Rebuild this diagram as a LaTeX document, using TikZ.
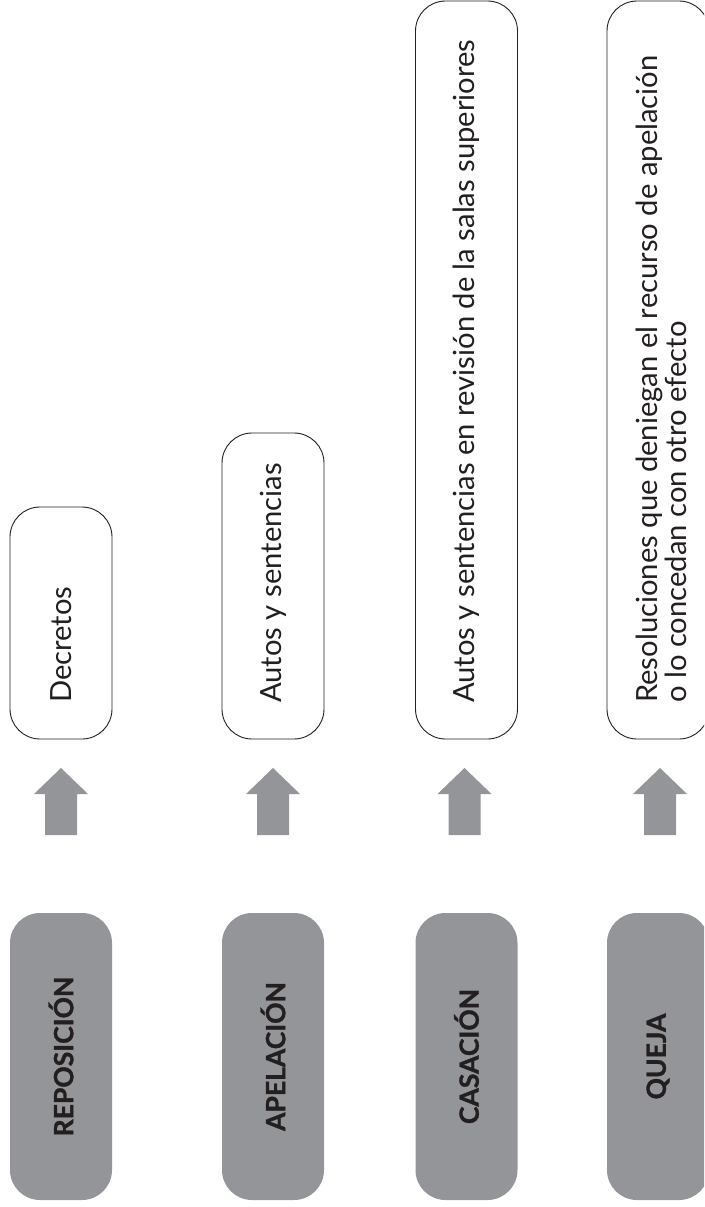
\documentclass[tikz,border=0pt]{standalone}
\usepackage{fontspec}
\setmainfont{Lato}
\newfontfamily\labelfont{Lato}[BoldFeatures={FakeBold=1.2}]
\usetikzlibrary{calc}
\definecolor{boxgray}{RGB}{147,149,152}
\definecolor{inkdark}{RGB}{35,31,32}
\tikzset{
  graybox/.style={fill=boxgray, rounded corners=30pt, minimum width=102pt,
    inner sep=0pt, outer sep=0pt},
  whitebox/.style={draw=inkdark, line width=0.9pt, rounded corners=30pt,
    minimum width=102pt, inner sep=0pt, outer sep=0pt},
  grouplabel/.style={rotate=90, inner sep=0pt, text=inkdark,
    font=\labelfont\fontsize{26.5}{28}\selectfont\bfseries},
  itemtext/.style={rotate=90, anchor=west, inner sep=0pt, text=inkdark,
    align=left, font=\fontsize{29.2}{29}\selectfont},
  uparrow/.style={fill=boxgray}
}
% upward block arrow whose tip sits at the given point
\newcommand{\blockarrow}[1]{%
  \fill[uparrow] (#1) -- ++(27,26) -- ++(-11,0) -- ++(0,41) -- ++(-32,0)
    -- ++(0,-41) -- ++(-11,0) -- cycle;}
\begin{document}
\begin{tikzpicture}[x=1pt, y=-1pt]
  \useasboundingbox (0,0) rectangle (704,1207);
  \clip (0,0) rectangle (704,1207);

  % kinds of appeal
  \node[graybox, minimum height=287pt] (g1) at (61,1056.5) {};
  \node[graybox, minimum height=287pt] (g2) at (273,1056.5) {};
  \node[graybox, minimum height=287pt] (g3) at (466.5,1056.5) {};
  \node[graybox, minimum height=287pt] (g4) at (658,1056.5) {};
  \node[grouplabel] at (g1) {REPOSICIÓN};
  \node[grouplabel] at (g2) {APELACIÓN};
  \node[grouplabel] at (g3) {CASACIÓN};
  \node[grouplabel] at (g4) {QUEJA};

  % decisions each one applies to
  \node[whitebox, minimum height=232pt] (w1) at (61,623) {};
  \node[whitebox, minimum height=306pt] (w2) at (273,586) {};
  \node[whitebox, minimum height=738pt] (w3) at (466.5,370) {};
  \node[whitebox, minimum height=738pt] (w4) at (658,370) {};

  \node[itemtext] (t1) at ($(w1.south)+(0,-36)$) {Decretos};
  \node[itemtext] (t2) at ($(w2.south)+(0,-36)$) {Autos y sentencias};
  \node[itemtext] (t3) at ($(w3.south)+(0,-36)$)
    {Autos y sentencias en revisión de la salas superiores};
  \node[itemtext] (t4) at ($(w4.south)+(3,-36)$)
    {Resoluciones que deniegan el recurso de apelación\\o lo concedan con otro efecto};

  % arrows from each appeal up to its decisions
  \coordinate (a1) at ($(w1.south)+(0,29)$);
  \coordinate (a2) at ($(w2.south)+(0,29)$);
  \coordinate (a3) at ($(w3.south)+(-2,29)$);
  \coordinate (a4) at ($(w4.south)+(2,29)$);
  \blockarrow{a1}
  \blockarrow{a2}
  \blockarrow{a3}
  \blockarrow{a4}
\end{tikzpicture}
\end{document}
